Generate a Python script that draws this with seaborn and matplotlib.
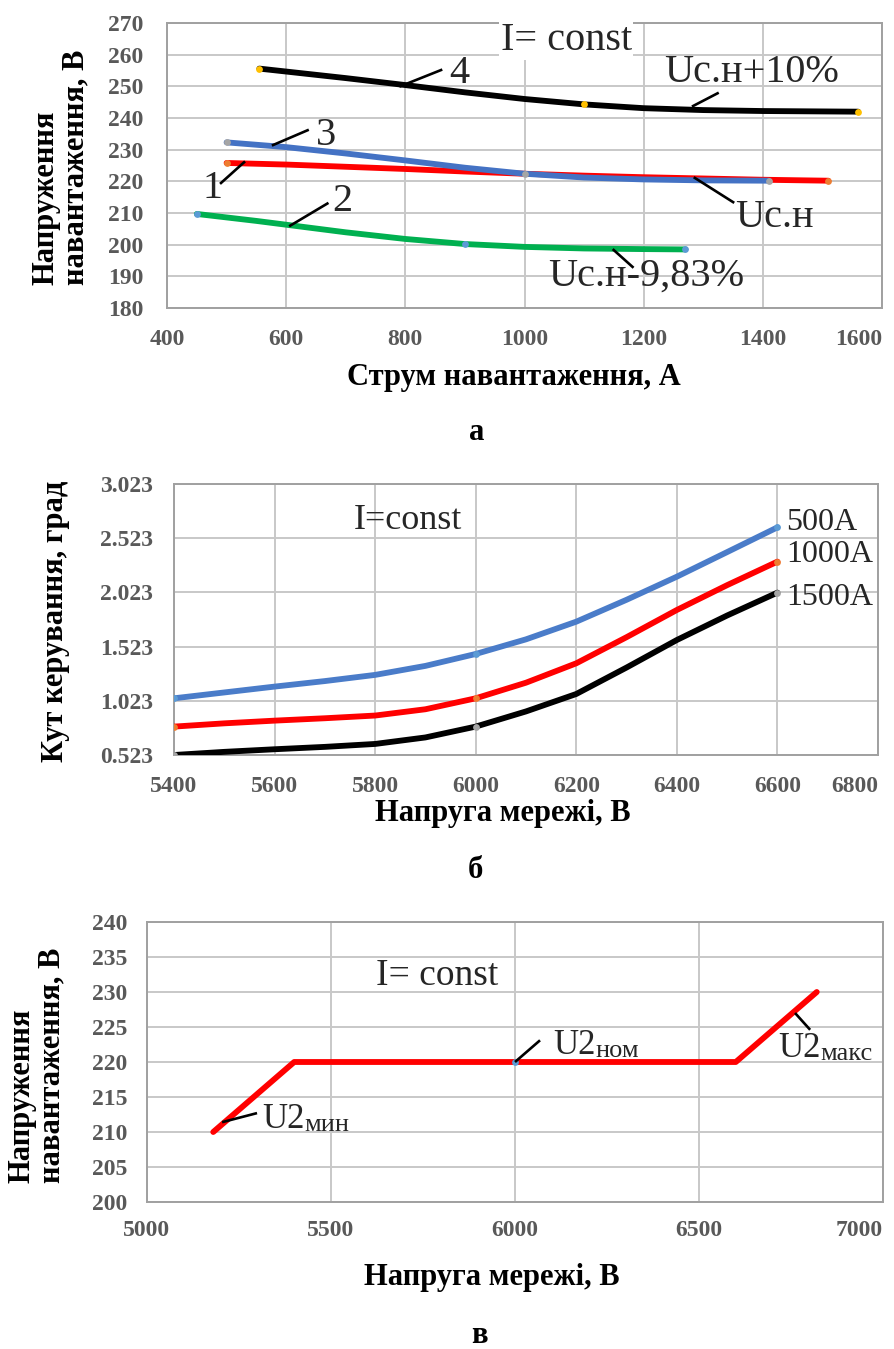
import numpy as np
import pandas as pd
import matplotlib
matplotlib.use("Agg")
import matplotlib.pyplot as plt
import seaborn as sns

# ---------- (а) load voltage vs load current ----------
cur_1 = [500, 600, 700, 800, 900, 1000, 1100, 1200, 1300, 1400, 1510]
volt_1 = [225.8, 225.3, 224.6, 223.9, 223.1, 222.4, 221.8, 221.3, 220.9, 220.5, 220.2]
cur_2 = [450, 550, 600, 700, 800, 900, 1000, 1100, 1200, 1270]
volt_2 = [209.7, 207.5, 206.3, 203.9, 201.8, 200.2, 199.3, 198.8, 198.6, 198.5]
cur_3 = [500, 600, 700, 800, 900, 1000, 1100, 1200, 1300, 1410]
volt_3 = [232.3, 230.8, 228.8, 226.6, 224.3, 222.4, 221.2, 220.6, 220.3, 220.2]
cur_4 = [555, 700, 800, 900, 1000, 1100, 1200, 1300, 1400, 1560]
volt_4 = [255.6, 252.6, 250.4, 248.1, 246.0, 244.3, 243.1, 242.5, 242.2, 242.0]
marked_1 = [500, 1510]
marked_2 = [450, 900, 1270]
marked_3 = [500, 1000, 1410]
marked_4 = [555, 1100, 1560]
cur_ticks = [400, 600, 800, 1000, 1200, 1400, 1600]
volt_ticks_a = [180, 190, 200, 210, 220, 230, 240, 250, 260, 270]

# ---------- (б) control angle vs mains voltage ----------
mains_b = [5400, 5500, 5600, 5700, 5800, 5900, 6000, 6100, 6200, 6300, 6400, 6500, 6600]
angle_500 = [1.046, 1.100, 1.154, 1.205, 1.262, 1.345, 1.455, 1.590, 1.753, 1.955, 2.168, 2.395, 2.623]
angle_1000 = [0.785, 0.815, 0.840, 0.862, 0.887, 0.945, 1.046, 1.190, 1.369, 1.610, 1.861, 2.090, 2.307]
angle_1500 = [0.523, 0.552, 0.576, 0.598, 0.625, 0.685, 0.785, 0.925, 1.086, 1.330, 1.584, 1.810, 2.021]
marked_b = [5400, 6000, 6600]
mains_ticks_b = [5400, 5600, 5800, 6000, 6200, 6400, 6600, 6800]
angle_ticks = [0.523, 1.023, 1.523, 2.023, 2.523, 3.023]

# ---------- (в) load voltage vs mains voltage ----------
mains_c = [5180, 5400, 6000, 6600, 6820]
volt_c = [210, 220, 220, 220, 230]
marked_c = [6000]
mains_ticks_c = [5000, 5500, 6000, 6500, 7000]
volt_ticks_c = [200, 205, 210, 215, 220, 225, 230, 235, 240]

sns.set_theme(style="whitegrid")
plt.rcParams["font.family"] = ["Liberation Serif", "DejaVu Serif"]

W, H = 894, 1349
fig = plt.figure(figsize=(W / 100, H / 100), dpi=100)

GRID = "#C8C8C8"
SPINE = "#A0A0A0"
TICK = "#595959"
LW = 4.2


def px_axes(left, top, right, bottom):
    return fig.add_axes([left / W, 1 - bottom / H, (right - left) / W, (bottom - top) / H])


def style_axes(ax, xticks, yticks, xpad, ypad, yfmt=None):
    ax.set_xticks(xticks)
    ax.set_yticks(yticks)
    ax.set_xlim(xticks[0], xticks[-1])
    ax.set_ylim(yticks[0], yticks[-1])
    if yfmt:
        ax.set_yticklabels([yfmt.format(v) for v in yticks])
    ax.grid(True, color=GRID, lw=1.4)
    for s in ax.spines.values():
        s.set_color(SPINE)
        s.set_linewidth(1.4)
        s.set_visible(True)
    ax.tick_params(axis="x", length=0, pad=xpad, labelsize=17, labelcolor=TICK)
    ax.tick_params(axis="y", length=0, pad=ypad, labelsize=17, labelcolor=TICK)
    for lab in ax.get_xticklabels() + ax.get_yticklabels():
        lab.set_fontweight("bold")
    # the last x label is pulled inside the figure edge
    ax.get_xticklabels()[-1].set_horizontalalignment("right")
    ax.set_xlabel("")
    ax.set_ylabel("")


def curve(ax, xs, ys, color, marked=None, mcolor=None):
    df = pd.DataFrame({"x": xs, "y": ys})
    sns.lineplot(data=df, x="x", y="y", color=color, lw=LW, sort=False,
                 errorbar=None, ax=ax, zorder=3)
    if marked:
        m = df[df["x"].isin(marked)]
        sns.scatterplot(data=m, x="x", y="y", color=mcolor, s=24, linewidth=0,
                        ax=ax, zorder=4)


def leader(ax, x0, y0, x1, y1):
    ax.plot([x0, x1], [y0, y1], color="black", lw=1.9, zorder=5,
            solid_capstyle="butt")


# ---------- panel а ----------
ax1 = px_axes(167, 23, 882, 308)
curve(ax1, cur_4, volt_4, "black", marked_4, "#FFC000")
curve(ax1, cur_1, volt_1, "#FF0000", marked_1, "#ED7D31")
curve(ax1, cur_3, volt_3, "#4472C4", marked_3, "#A5A5A5")
curve(ax1, cur_2, volt_2, "#00B050", marked_2, "#5B9BD5")
style_axes(ax1, cur_ticks, volt_ticks_a, xpad=15, ypad=17)

ax1.text(1070, 264.5, "I= const", fontsize=29, ha="center", va="center",
         bbox=dict(facecolor="white", edgecolor="none", pad=1), zorder=6)
ann_a = [
    ("4", 890, 254.0, (790, 249.9, 862, 255.3)),
    ("Uc.н+10%", 1381, 254.3, (1281, 243.6, 1326, 248.0)),
    ("3", 667, 234.4, (576, 231.3, 638, 236.3)),
    ("1", 476, 217.6, (489, 219.2, 531, 226.3)),
    ("2", 695, 213.5, (605, 205.8, 671, 213.2)),
    ("Uc.н", 1419, 208.7, (1284, 221.3, 1352, 213.2)),
    ("Uc.н-9,83%", 1205, 190.0, (1148, 198.6, 1183, 192.7)),
]
for txt, tx, ty, (a, b, c, d) in ann_a:
    leader(ax1, a, b, c, d)
    ax1.text(tx, ty, txt, fontsize=29, ha="center", va="center", zorder=6)

# ---------- panel б ----------
ax2 = px_axes(174, 484, 878, 755)
curve(ax2, mains_b, angle_500, "#4A7CC9", marked_b, "#5B9BD5")
curve(ax2, mains_b, angle_1000, "#FF0000", marked_b, "#ED7D31")
curve(ax2, mains_b, angle_1500, "black", marked_b, "#A5A5A5")
style_axes(ax2, mains_ticks_b, angle_ticks, xpad=15, ypad=15, yfmt="{:.3f}")
ax2.text(5865, 2.69, "I=const", fontsize=26, ha="center", va="center", zorder=6)
for txt, ty in [("500A", 2.672), ("1000A", 2.377), ("1500A", 1.98)]:
    ax2.text(6618, ty, txt, fontsize=23, ha="left", va="center", zorder=6)

# ---------- panel в ----------
ax3 = px_axes(147, 922, 883, 1202)
curve(ax3, mains_c, volt_c, "#FF0000", marked_c, "#5B9BD5")
style_axes(ax3, mains_ticks_c, volt_ticks_c, xpad=13, ypad=14)
ax3.text(5788, 232.3, "I= const", fontsize=27, ha="center", va="center", zorder=6)
ann_c = [
    ("U2", "мин", 5312, 210.6, (5204, 211.4, 5299, 212.7)),
    ("U2", "ном", 6103, 221.1, (6000, 220.0, 6068, 223.1)),
    ("U2", "макс", 6715, 220.7, (6761, 227.0, 6802, 224.6)),
]
for big, small, tx, ty, (a, b, c, d) in ann_c:
    leader(ax3, a, b, c, d)
    t = ax3.text(tx, ty, big, fontsize=25, ha="left", va="baseline", zorder=6)
    ax3.annotate(small, xy=(1, 0), xycoords=t, xytext=(0, 0),
                 textcoords="offset points", fontsize=19, ha="left",
                 va="bottom", zorder=6)

# ---------- axis titles and panel letters ----------
lab = dict(fontsize=22, fontweight="bold", color="black")
fig.text(514 / W, 1 - 378 / H, "Струм навантаження, А", ha="center", va="center", **lab)
fig.text(477 / W, 1 - 432 / H, "а", ha="center", va="center", **lab)
fig.text(61 / W, 1 - 285 / H, "Напруження\nнавантаження, В", rotation=90,
         ha="center", va="bottom", multialignment="left", linespacing=1.05, **lab)

fig.text(503 / W, 1 - 813 / H, "Напруга мережі, В", ha="center", va="center", **lab)
fig.text(475 / W, 1 - 870 / H, "б", ha="center", va="center", **lab)
fig.text(55 / W, 1 - 621 / H, "Кут керування, град", rotation=90,
         ha="center", va="center", **lab)

fig.text(492 / W, 1 - 1278 / H, "Напруга мережі, В", ha="center", va="center", **lab)
fig.text(480 / W, 1 - 1343 / H, "в", ha="center", va="baseline", **lab)
fig.text(37 / W, 1 - 1183 / H, "Напруження\nнавантаження, В", rotation=90,
         ha="center", va="bottom", multialignment="left", linespacing=1.05, **lab)

fig.savefig("out.png", dpi=100, facecolor="white")
